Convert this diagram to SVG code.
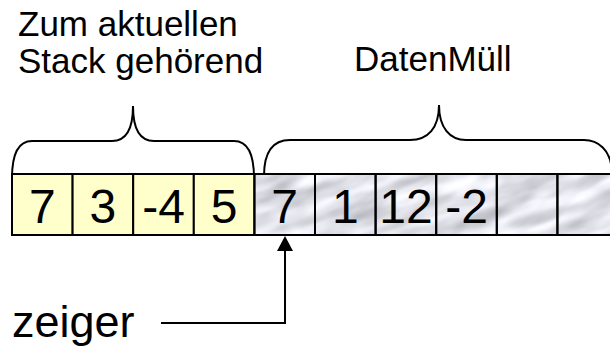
<svg xmlns="http://www.w3.org/2000/svg" width="610" height="349" viewBox="0 0 610 349">
  <style>
    .lbl { font-family: "Liberation Sans", Arial, sans-serif; font-size: 35px; fill: #000; }
    .num { font-family: "Liberation Sans", Arial, sans-serif; font-size: 48px; fill: #000; text-anchor: middle; }
    .ptr { font-family: "Liberation Sans", Arial, sans-serif; font-size: 45px; fill: #000; }
    .brace { fill: none; stroke: #000; stroke-width: 2; }
    .cell { stroke: #000; stroke-width: 2; }
    .used { fill: #ffffcc; }
    .junk { fill: none; }
    .wire { fill: none; stroke: #000; stroke-width: 2; }
  </style>
  <defs>
    <!-- soft grey marble texture for the unused memory cells -->
    <filter id="marble" x="0" y="0" width="100%" height="100%" color-interpolation-filters="sRGB">
      <feTurbulence type="fractalNoise" baseFrequency="0.018 0.07" numOctaves="3" seed="11" result="noise"/>
      <feColorMatrix in="noise" type="matrix" values="0.45 0 0 0 0.66  0.45 0 0 0 0.66  0.45 0 0 0 0.69  0 0 0 0 1" result="grey"/>
      <feGaussianBlur in="grey" stdDeviation="1"/>
    </filter>
    <clipPath id="junkArea">
      <rect x="254" y="174" width="358" height="61"/>
    </clipPath>
  </defs>

  <rect width="610" height="349" fill="#fff"/>

  <!-- captions -->
  <g id="caption-stack">
    <text class="lbl" x="18" y="36">Zum aktuellen</text>
    <text class="lbl" x="18" y="73">Stack gehörend</text>
  </g>
  <g id="caption-junk">
    <text class="lbl" x="354" y="71">DatenMüll</text>
  </g>

  <!-- curly braces -->
  <g id="brace-stack">
    <path class="brace" d="M12,178 C12,154 18,141 32,141 L112,141 C126,141 133,130 133,106 C133,130 140,141 154,141 L234,141 C248,141 254,154 254,178"/>
  </g>
  <g id="brace-junk">
    <path class="brace" d="M264,176 C264,153 272,140 290,140 L410,140 C428,140 439,128 439,105 C439,128 450,140 466,140 L584,140 C600,140 609,152 611,164"/>
  </g>

  <!-- texture behind the unused cells, streaks running diagonally -->
  <g clip-path="url(#junkArea)">
    <rect x="200" y="40" width="480" height="330" fill="#e0e0e0" filter="url(#marble)" transform="rotate(-22 432 205)"/>
  </g>

  <!-- stack cells -->
  <g id="cell-0"><rect class="cell used" x="12" y="174" width="60.6" height="61"/><text class="num" x="42.3" y="223">7</text></g>
  <g id="cell-1"><rect class="cell used" x="72.6" y="174" width="60.6" height="61"/><text class="num" x="102.9" y="223">3</text></g>
  <g id="cell-2"><rect class="cell used" x="133.2" y="174" width="60.6" height="61"/><text class="num" x="163.5" y="223">-4</text></g>
  <g id="cell-3"><rect class="cell used" x="193.8" y="174" width="60.6" height="61"/><text class="num" x="224.1" y="223">5</text></g>

  <!-- leftover data cells -->
  <g id="cell-4"><rect class="cell junk" x="254.4" y="174" width="60.6" height="61"/><text class="num" x="284.7" y="223">7</text></g>
  <g id="cell-5"><rect class="cell junk" x="315" y="174" width="60.6" height="61"/><text class="num" x="345.3" y="223">1</text></g>
  <g id="cell-6"><rect class="cell junk" x="375.6" y="174" width="60.6" height="61"/><text class="num" x="405.9" y="223">12</text></g>
  <g id="cell-7"><rect class="cell junk" x="436.2" y="174" width="60.6" height="61"/><text class="num" x="466.5" y="223">-2</text></g>
  <g id="cell-8"><rect class="cell junk" x="496.8" y="174" width="60.6" height="61"/></g>
  <g id="cell-9"><rect class="cell junk" x="557.4" y="174" width="60.6" height="61"/></g>

  <!-- pointer label -->
  <g id="pointer">
    <text class="ptr" x="12" y="337">zeiger</text>
  </g>

  <g id="connectors">
    <path class="wire" d="M161,323 L285,323 L285,250"/>
    <path d="M277,251 L285,236 L293,251 Z" fill="#000"/>
  </g>
</svg>
